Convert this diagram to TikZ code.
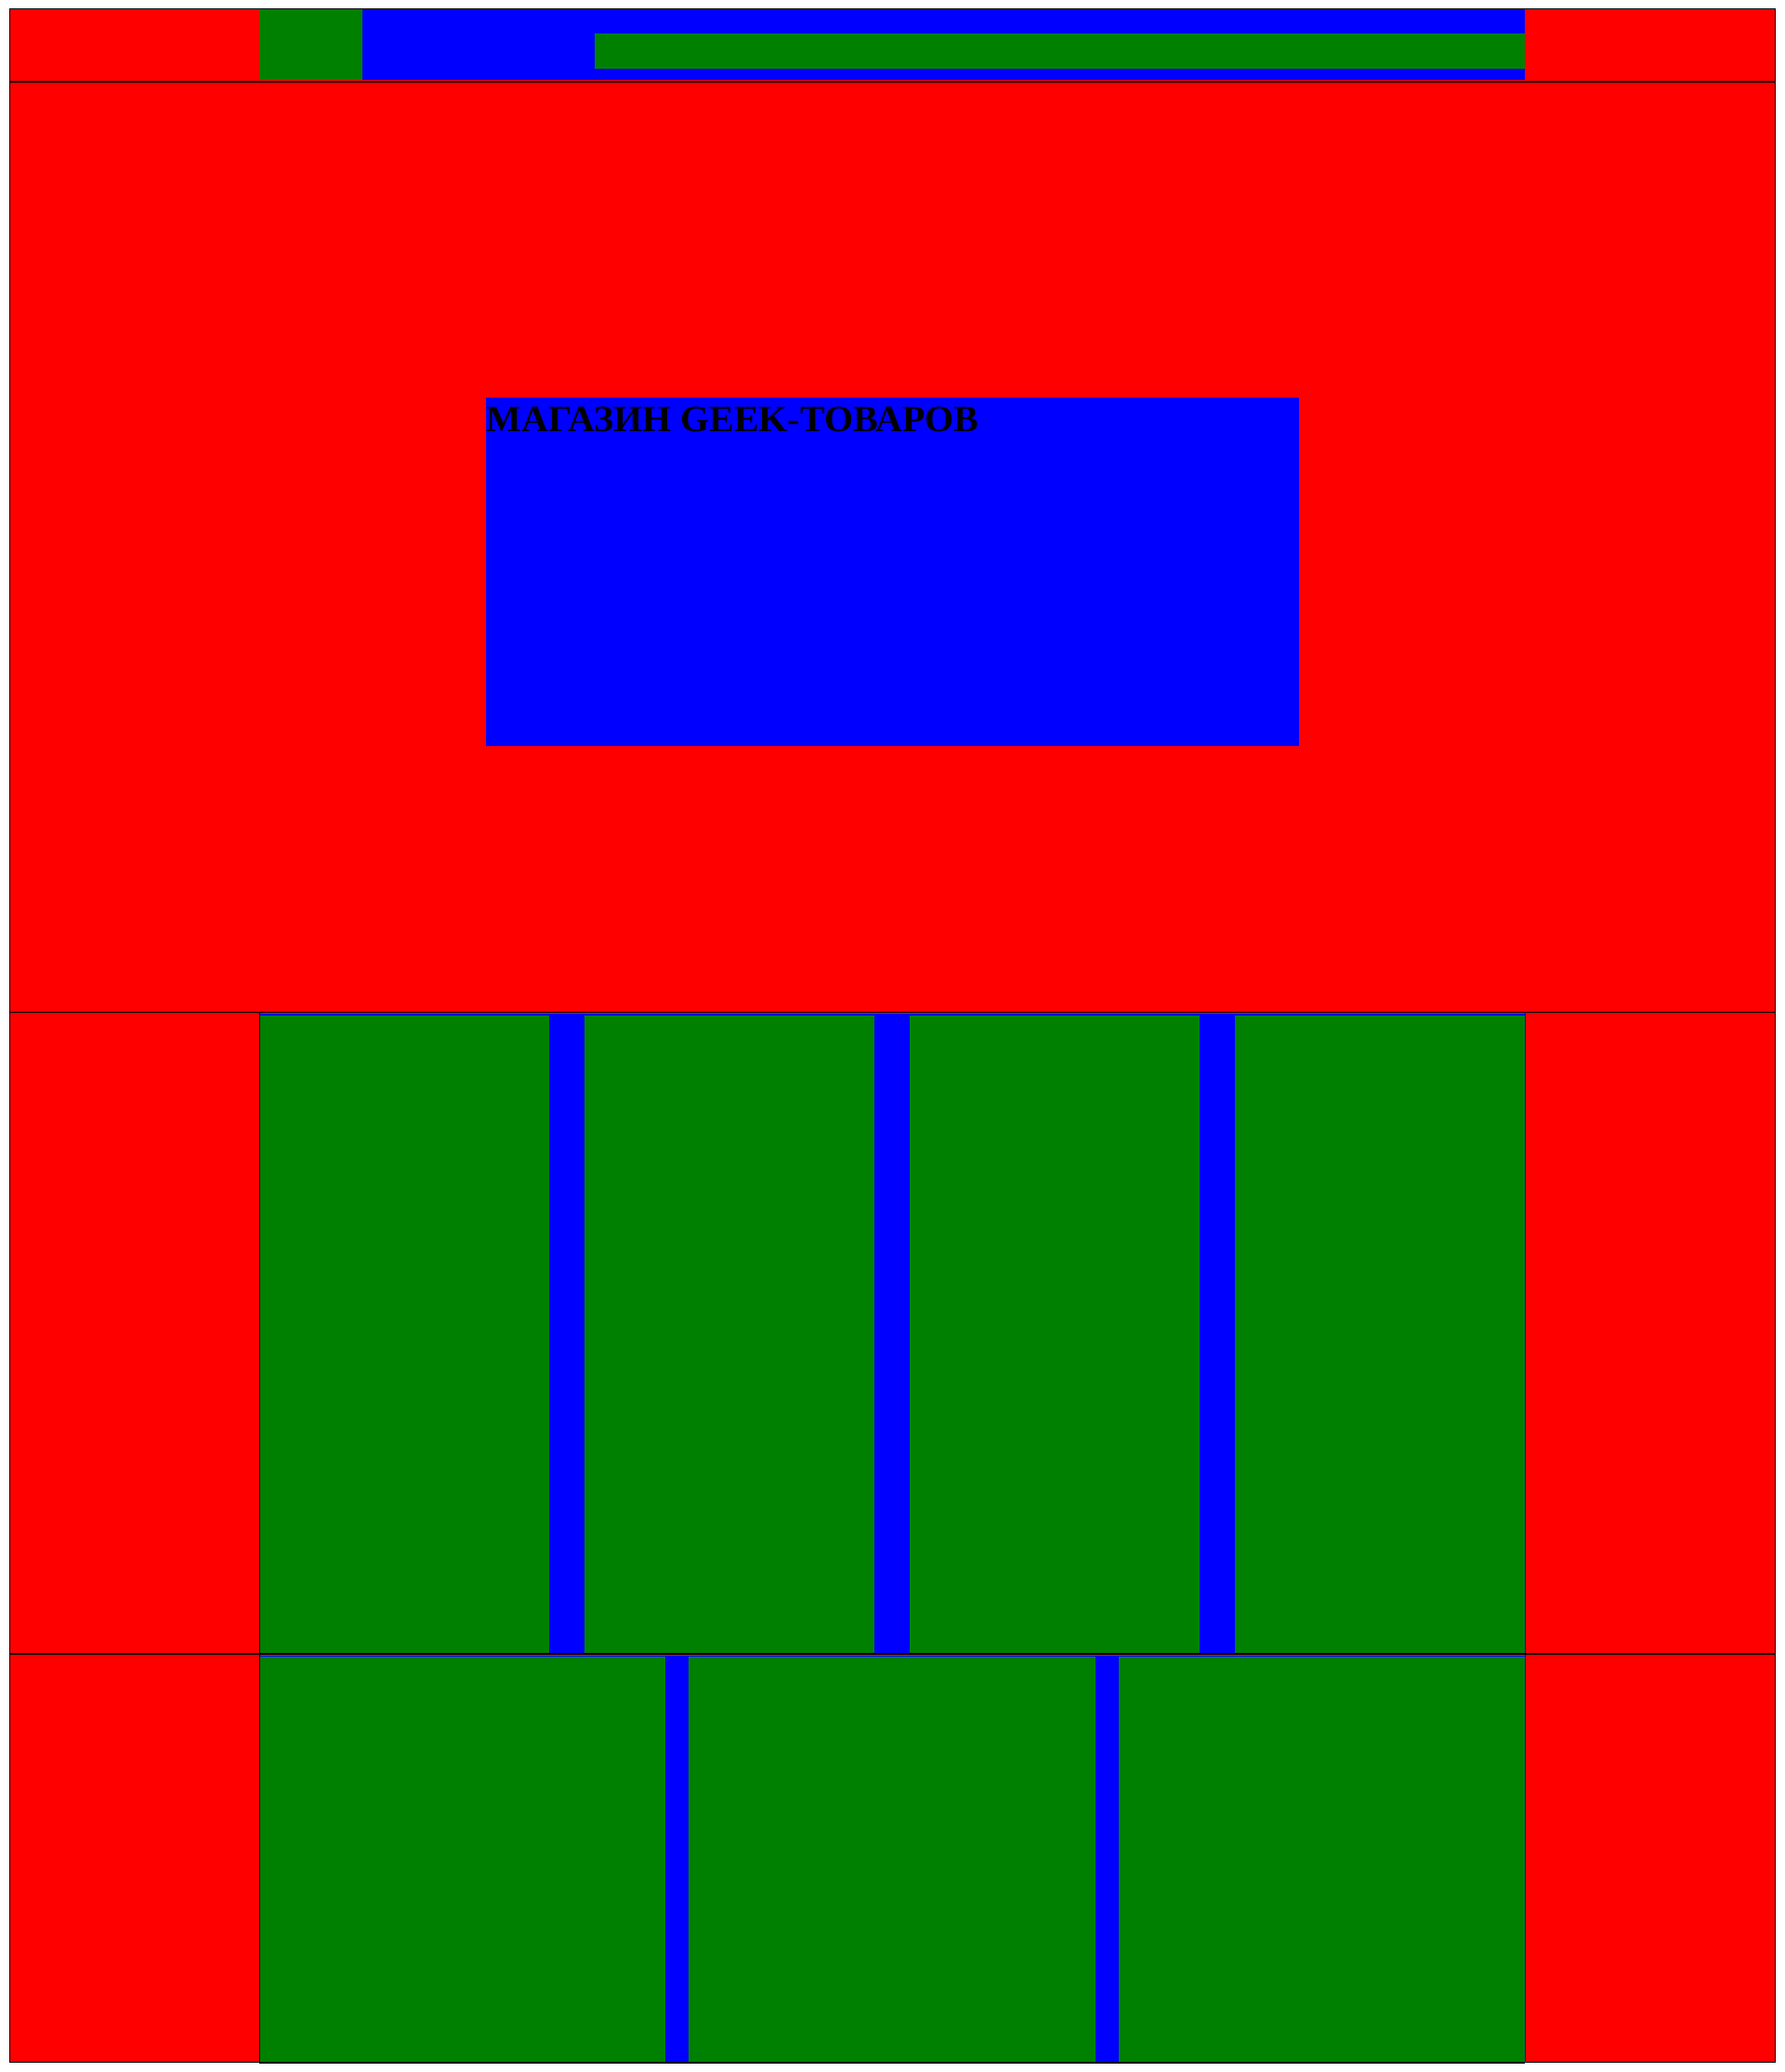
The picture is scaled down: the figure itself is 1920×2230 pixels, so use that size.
\documentclass[tikz,border=0pt]{standalone}
\usepackage{fontspec}
\setmainfont{Liberation Serif}
\definecolor{pred}{HTML}{FF0000}
\definecolor{pgreen}{HTML}{008000}
\definecolor{pblue}{HTML}{0000FF}
\tikzset{
  redbox/.style={fill=pred},
  greenbox/.style={fill=pgreen},
  bluebox/.style={fill=pblue},
  rule/.style={draw=black,line width=0.5pt},
}
\begin{document}
\begin{tikzpicture}[x=0.5pt,y=-0.5pt]
\useasboundingbox (0,0) rectangle (1920,2230);
% header
\fill[redbox] (10,10) rectangle (1910,88);
\fill[greenbox] (279,10) rectangle (390,86);
\fill[bluebox] (390,10) rectangle (1641,86);
\fill[greenbox] (640,36) rectangle (1641,74);
\draw[rule] (10,10) rectangle (1910,88);
\draw[draw=black,line width=0.8pt] (10,88) -- (1910,88);
% hero
\fill[redbox] (10,89) rectangle (1910,1089);
\fill[bluebox] (523,428) rectangle (1398,803);
\node[anchor=base west,inner sep=0pt,font=\fontsize{20pt}{24pt}\selectfont\bfseries] (title) at (523,464.3) {МАГАЗИН GEEK-ТОВАРОВ};
\draw[rule] (10,88) rectangle (1910,1089);
% row 2
\fill[redbox] (10,1089) rectangle (1910,1780);
\fill[bluebox] (279,1090.5) rectangle (1641,1780);
\foreach \a/\b in {279/591,629/941,979/1291,1329/1641}
  \fill[greenbox] (\a,1092.5) rectangle (\b,1779.5);
\draw[rule] (10,1089) rectangle (1910,1780);
\draw[rule] (279,1089) -- (279,1780);
\draw[draw=pblue,line width=0.5pt] (1641.5,1089) -- (1641.5,1780);
% row 3
\fill[redbox] (10,1780) rectangle (1910,2219.5);
\fill[bluebox] (279,1781.5) rectangle (1641,2220.5);
\foreach \a/\b in {279/716,741/1179,1204/1641}
  \fill[greenbox] (\a,1783) rectangle (\b,2220);
\draw[rule] (10,1780) rectangle (1910,2219.5);
\draw[rule] (279,1780) -- (279,2220.5) -- (1641,2220.5);
\draw[draw=pblue,line width=0.5pt] (1641.5,1780) -- (1641.5,2219.5);
\draw[draw=black,line width=0.8pt] (10,1780) -- (1910,1780);
\end{tikzpicture}
\end{document}
